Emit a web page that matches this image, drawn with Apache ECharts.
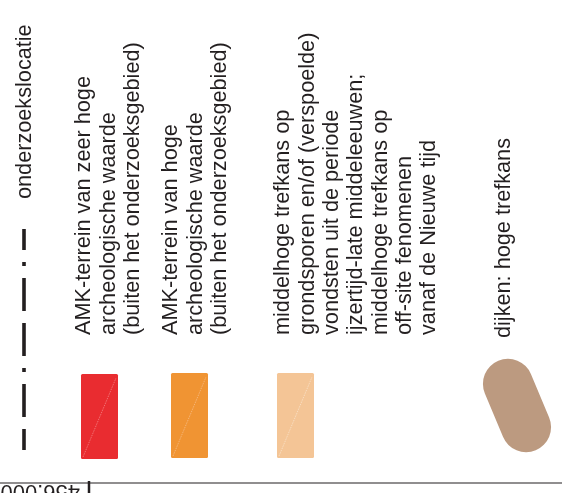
<!DOCTYPE html>
<html><head><meta charset="utf-8">
<script src="https://cdn.jsdelivr.net/npm/echarts@6/dist/echarts.min.js"></script>
<style>html,body{margin:0;padding:0;background:#fff}#c{width:562px;height:493px}</style>
</head><body><div id="c"></div>
<script>
// Legend texts
const locationLabel = ['onderzoekslocatie'];
const amkVeryHighLabel = ['AMK-terrein van zeer hoge', 'archeologische waarde', '(buiten het onderzoeksgebied)'];
const amkHighLabel = ['AMK-terrein van hoge', 'archeologische waarde', '(buiten het onderzoeksgebied)'];
const mediumLabel = ['middelhoge trefkans op', 'grondsporen en/of (verspoelde)', 'vondsten uit de periode', 'ijzertijd-late middeleeuwen;', 'middelhoge trefkans op', 'off-site fenomenen', 'vanaf de Nieuwe tijd'];
const dikeLabel = ['dijken: hoge trefkans'];
const coordinateLabel = ['456.000'];

const FONT = '22px "Liberation Sans", Arial, sans-serif';
const SX = 0.985;
const INK = '#231f20';
const MID = 6.6; // distance from baseline to text middle

function column(lines, baseX, startY, pitch) {
  return lines.map((t, i) => ({
    type: 'text',
    x: baseX + i * pitch - MID,
    y: startY,
    rotation: Math.PI / 2,
    scaleX: SX,
    style: { text: t, font: FONT, fill: INK, align: 'left', verticalAlign: 'middle', textAlign: 'left', textVerticalAlign: 'middle' }
  }));
}

function swatch(x, y, w, h, fill, diag) {
  return [
    { type: 'rect', shape: { x: x, y: y, width: w, height: h, r: 1.5 }, style: { fill: fill } },
    { type: 'line', shape: { x1: x + 2, y1: y + h - 2, x2: x + w - 2, y2: y + 4 }, style: { stroke: diag, lineWidth: 1, lineDash: [1.5, 1] } }
  ];
}

const elements = [].concat(
  [{ type: 'line', shape: { x1: 24, y1: 229, x2: 24, y2: 450 }, style: { stroke: INK, lineWidth: 3.6, lineDash: [33, 12, 33, 12, 4, 12], lineDashOffset: 57 } }],
  column(locationLabel, 32, 199, 0),
  swatch(81, 374, 37, 85, '#E92C30', '#F27072'),
  column(amkVeryHighLabel, 91, 335, 24.5),
  swatch(171, 373, 37, 85, '#F09433', '#F6B474'),
  column(amkHighLabel, 178, 335, 24.5),
  swatch(277, 373, 37, 85, '#F4C596', '#F9DDBF'),
  column(mediumLabel, 290, 335, 24.3),
  [{ type: 'rect', x: 517, y: 405.5, rotation: 0.396, shape: { x: -25, y: -48.5, width: 50, height: 97, r: 25 }, style: { fill: '#BC9A80' } }],
  column(dikeLabel, 511, 338, 0),
  [
    { type: 'line', shape: { x1: 0, y1: 483, x2: 562, y2: 483 }, style: { stroke: INK, lineWidth: 1.2 } },
    { type: 'line', shape: { x1: 89, y1: 481, x2: 89, y2: 493 }, style: { stroke: INK, lineWidth: 2.5 } },
    { type: 'text', x: 80, y: 484.5 + MID, rotation: Math.PI, style: { text: coordinateLabel[0], font: FONT, fill: INK, align: 'left', verticalAlign: 'middle', textAlign: 'left', textVerticalAlign: 'middle' } }
  ]
);

const chart = echarts.init(document.getElementById('c'), null, { renderer: 'canvas' });
chart.setOption({
  backgroundColor: '#ffffff',
  animation: false,
  graphic: { elements: elements }
});
</script></body></html>
